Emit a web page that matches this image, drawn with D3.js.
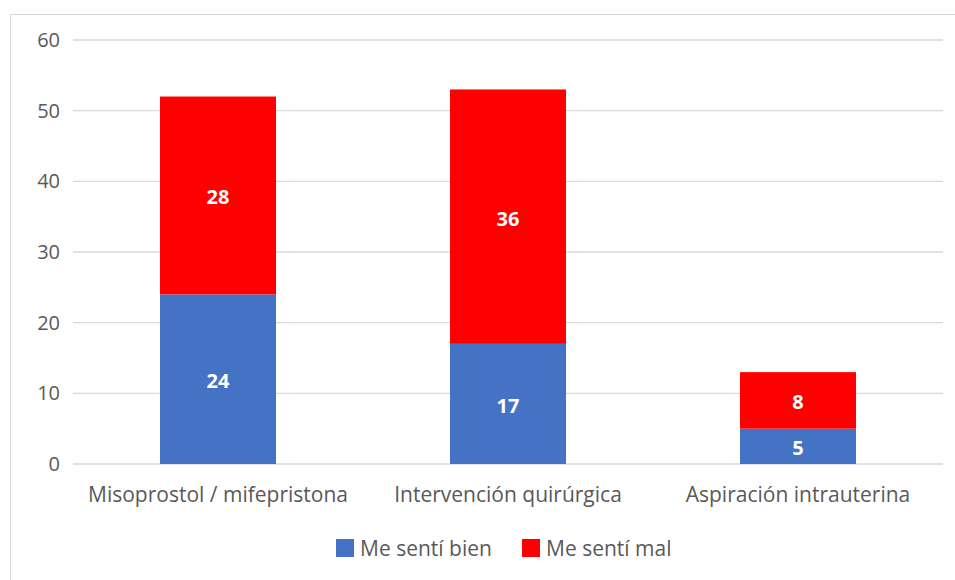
<!DOCTYPE html>
<html>
<head>
<meta charset="utf-8">
<script src="https://cdn.jsdelivr.net/npm/d3@7"></script>
<style>
body { margin: 0; background: #fff; }
text { font-family: "Open Sans", "Noto Sans", sans-serif; }
</style>
</head>
<body>
<div id="chart"></div>
<script>
// data
var categories = ["Misoprostol / mifepristona", "Intervención quirúrgica", "Aspiración intrauterina"];
var seriesNames = ["Me sentí bien", "Me sentí mal"];
var bienValues = [24, 17, 5];
var malValues = [28, 36, 8];
var yTicks = [0, 10, 20, 30, 40, 50, 60];
var seriesColors = ["#4472c4", "#ff0000"];

var w = 955, h = 580;
var margin = {left: 73, right: 12, top: 40, bottom: 116};

var svg = d3.select("#chart").append("svg")
	.attr("width", w)
	.attr("height", h);

// chart frame
svg.append("rect")
	.attr("x", 10.5).attr("y", 14.5)
	.attr("width", w).attr("height", h)
	.attr("fill", "none")
	.attr("stroke", "#d9d9d9");

var x = d3.scaleBand()
	.domain(categories)
	.range([margin.left, w - margin.right])
	.paddingInner(0.6)
	.paddingOuter(0.3);

var y = d3.scaleLinear()
	.domain([0, 60])
	.range([h - margin.bottom, margin.top]);

// gridlines
svg.append("g").selectAll("line")
	.data(yTicks).enter()
	.append("line")
	.attr("x1", margin.left)
	.attr("x2", w - margin.right)
	.attr("y1", function(d) { return y(d); })
	.attr("y2", function(d) { return y(d); })
	.attr("stroke", "#d9d9d9")
	.attr("stroke-width", 1.3);

// y axis labels
var yAxis = d3.axisLeft(y).tickValues(yTicks).tickSize(0).tickPadding(13);
var yg = svg.append("g")
	.attr("transform", "translate(" + margin.left + ",0)")
	.call(yAxis);
yg.select(".domain").remove();
yg.selectAll("text")
	.attr("fill", "#595959")
	.style("font-size", "20px");

// x axis labels
var xAxis = d3.axisBottom(x).tickSize(0).tickPadding(23);
var xg = svg.append("g")
	.attr("transform", "translate(0," + y(0) + ")")
	.call(xAxis);
xg.select(".domain").remove();
xg.selectAll("text")
	.attr("fill", "#595959")
	.style("font-size", "21px");

// stacked data
var rows = categories.map(function(c, i) {
	return {category: c, bien: bienValues[i], mal: malValues[i]};
});
var stack = d3.stack().keys(["bien", "mal"]);
var layers = stack(rows);

var layer = svg.selectAll(".layer")
	.data(layers).enter()
	.append("g")
	.attr("class", "layer")
	.attr("fill", function(d, i) { return seriesColors[i]; });

layer.selectAll("rect")
	.data(function(d) { return d; }).enter()
	.append("rect")
	.attr("x", function(d) { return x(d.data.category); })
	.attr("y", function(d) { return y(d[1]); })
	.attr("height", function(d) { return y(d[0]) - y(d[1]); })
	.attr("width", x.bandwidth());

layer.selectAll("text")
	.data(function(d) { return d; }).enter()
	.append("text")
	.attr("x", function(d) { return x(d.data.category) + x.bandwidth() / 2; })
	.attr("y", function(d) { return (y(d[0]) + y(d[1])) / 2; })
	.attr("dy", "0.45em")
	.attr("text-anchor", "middle")
	.attr("fill", "#fff")
	.style("font-size", "20px")
	.style("font-weight", "bold")
	.text(function(d) { return d[1] - d[0]; });

// legend
var legendX = [336, 522];
var legend = svg.append("g").selectAll("g")
	.data(seriesNames).enter()
	.append("g")
	.attr("transform", function(d, i) { return "translate(" + legendX[i] + ",539)"; });
legend.append("rect")
	.attr("width", 18).attr("height", 18)
	.attr("fill", function(d, i) { return seriesColors[i]; });
legend.append("text")
	.attr("x", 24).attr("y", 10)
	.attr("dy", "0.35em")
	.attr("fill", "#595959")
	.style("font-size", "21px")
	.text(function(d) { return d; });
</script>
</body>
</html>
